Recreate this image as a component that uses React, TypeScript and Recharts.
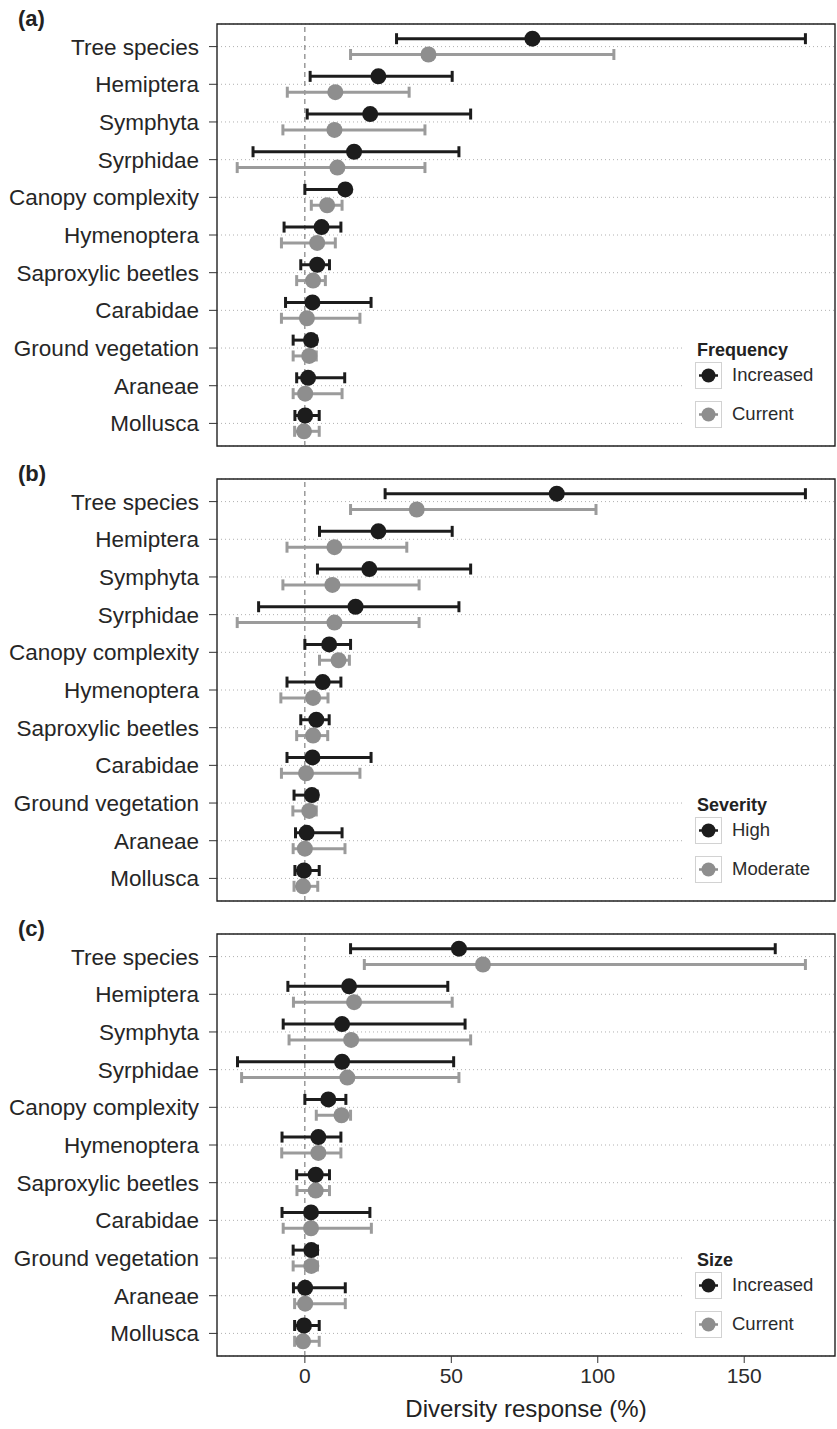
import {
  ScatterChart,
  Scatter,
  XAxis,
  YAxis,
  CartesianGrid,
  ReferenceLine,
  ReferenceArea,
  ErrorBar,
} from "recharts";

const species = [
  "Tree species",
  "Hemiptera",
  "Symphyta",
  "Syrphidae",
  "Canopy complexity",
  "Hymenoptera",
  "Saproxylic beetles",
  "Carabidae",
  "Ground vegetation",
  "Araneae",
  "Mollusca",
];

const xTicks = [0, 50, 100, 150];

// (a) frequency
const freqIncMean = [77.7, 25.1, 22.3, 16.8, 13.8, 5.7, 4.2, 2.6, 2.1, 1.1, 0.1];
const freqIncLow = [31.3, 1.8, 0.8, -17.7, 0, -7.1, -1.4, -6.6, -4.0, -2.8, -3.4];
const freqIncHigh = [170.9, 50.3, 56.6, 52.6, 14.5, 12.3, 8.4, 22.6, 3.9, 13.6, 4.9];
const freqCurMean = [42.2, 10.4, 10.1, 11.1, 7.6, 4.2, 2.8, 0.7, 1.5, 0.1, -0.3];
const freqCurLow = [15.6, -6.0, -7.5, -23.1, 2.2, -8.0, -2.8, -8.0, -4.0, -4.0, -3.5];
const freqCurHigh = [105.5, 35.6, 41.0, 41.0, 12.7, 10.4, 7.0, 18.8, 3.9, 12.7, 4.9];

// (b) severity
const sevHighMean = [86.0, 25.1, 22.0, 17.3, 8.3, 6.1, 3.9, 2.6, 2.4, 0.6, -0.3];
const sevHighLow = [27.4, 5.0, 4.3, -15.8, 0, -6.1, -1.4, -6.1, -3.7, -3.2, -3.4];
const sevHighHigh = [170.9, 50.3, 56.6, 52.6, 15.6, 12.3, 8.3, 22.6, 4.2, 12.7, 4.9];
const sevModMean = [38.2, 10.1, 9.4, 10.1, 11.5, 2.8, 2.8, 0.4, 1.5, 0, -0.6];
const sevModLow = [15.6, -6.1, -7.5, -23.1, 5.0, -8.2, -2.8, -8.0, -4.1, -4.0, -3.7];
const sevModHigh = [99.4, 34.8, 39.0, 39.0, 15.2, 7.9, 7.8, 18.8, 3.9, 13.7, 4.4];

// (c) size
const sizeIncMean = [52.6, 15.1, 12.7, 12.7, 8.0, 4.6, 3.7, 2.1, 2.2, 0.1, -0.3];
const sizeIncLow = [15.6, -5.8, -7.4, -23.0, 0, -7.8, -2.8, -7.8, -4.0, -3.9, -3.5];
const sizeIncHigh = [160.6, 48.8, 54.7, 50.8, 14.0, 12.3, 8.4, 22.2, 4.3, 13.8, 4.9];
const sizeCurMean = [60.8, 16.8, 15.8, 14.5, 12.5, 4.6, 3.7, 2.1, 2.2, 0.1, -0.6];
const sizeCurLow = [20.3, -3.9, -5.4, -21.6, 3.9, -7.9, -2.7, -7.4, -4.0, -3.5, -3.5];
const sizeCurHigh = [170.9, 50.3, 56.6, 52.6, 15.6, 12.3, 8.4, 22.7, 4.3, 13.8, 4.9];

const W = 837;
const DODGE = 0.21;
const DARK = "#1c1c1c";
const GREY = "#8e8e8e";
const GREY_BAR = "#9b9b9b";
const FONT = "'Liberation Sans', Arial, Helvetica, sans-serif";

function rows(mean: number[], low: number[], high: number[], shift: number) {
  return species.map((name, i) => ({
    name,
    x: mean[i],
    y: i + shift,
    err: [mean[i] - low[i], high[i] - mean[i]],
  }));
}

const dot = (fill: string) => (props: any) =>
  <circle cx={props.cx} cy={props.cy} r={8} fill={fill} />;

function LegendKey({ color }: { color: string }) {
  return (
    <svg width={27} height={27} style={{ display: "block" }}>
      <rect x={0.5} y={0.5} width={26} height={26} fill="#fff" stroke="#d2d2d2" />
      <line x1={4} y1={13.5} x2={23} y2={13.5} stroke={color} strokeWidth={2.5} />
      <circle cx={13.5} cy={13.5} r={7} fill={color} />
    </svg>
  );
}

type PanelProps = {
  tag: string;
  legendTitle: string;
  names: [string, string];
  dark: ReturnType<typeof rows>;
  grey: ReturnType<typeof rows>;
  showAxis?: boolean;
};

function Panel({ tag, legendTitle, names, dark, grey, showAxis }: PanelProps) {
  const height = showAxis ? 519 : 455;
  return (
    <div style={{ position: "relative", width: W, height }}>
      <ScatterChart
        width={W}
        height={height}
        margin={{ top: 24, right: 2, bottom: showAxis ? 0 : 9, left: 0 }}
      >
        <CartesianGrid horizontal vertical={false} stroke="#b0b0b0" strokeDasharray="1 3" />
        <XAxis
          type="number"
          dataKey="x"
          domain={[-30, 181]}
          ticks={xTicks}
          hide={!showAxis}
          height={73}
          axisLine={false}
          tickSize={7}
          tickMargin={5}
          tickLine={{ stroke: "#333" }}
          tick={{ fontSize: 21, fill: "#2b2b2b", fontFamily: FONT }}
          label={{
            value: "Diversity response (%)",
            position: "insideBottom",
            offset: 12,
            fontSize: 24,
            fill: "#222",
            fontFamily: FONT,
          }}
        />
        <YAxis
          type="number"
          dataKey="y"
          domain={[-0.6, 10.6]}
          reversed
          ticks={species.map((_, i) => i)}
          interval={0}
          tickFormatter={(v: number) => species[v]}
          width={217}
          axisLine={false}
          tickSize={8}
          tickMargin={10}
          tickLine={{ stroke: "#333" }}
          tick={{ fontSize: 22.5, fill: "#262626", fontFamily: FONT }}
        />
        <ReferenceLine x={0} stroke="#666" strokeDasharray="5 4" />
        <Scatter data={grey} shape={dot(GREY)} isAnimationActive={false}>
          <ErrorBar dataKey="err" direction="x" width={5.5} stroke={GREY_BAR} strokeWidth={3} />
        </Scatter>
        <Scatter data={dark} shape={dot(DARK)} isAnimationActive={false}>
          <ErrorBar dataKey="err" direction="x" width={5.5} stroke={DARK} strokeWidth={3} />
        </Scatter>
        <ReferenceArea
          x1={-30}
          x2={181}
          y1={-0.6}
          y2={10.6}
          fill="none"
          stroke="#222"
          strokeWidth={1.4}
          fillOpacity={0}
        />
      </ScatterChart>
      <div
        style={{
          position: "absolute",
          left: 18,
          top: 7,
          fontSize: 22,
          fontWeight: "bold",
          color: "#222",
          lineHeight: "24px",
        }}
      >
        {tag}
      </div>
      <div
        style={{
          position: "absolute",
          left: 684,
          top: 333,
          width: 150,
          height: 108,
          background: "#fff",
        }}
      >
        <div
          style={{
            position: "absolute",
            left: 13,
            top: 6,
            fontSize: 18,
            fontWeight: "bold",
            color: "#222",
            lineHeight: "22px",
          }}
        >
          {legendTitle}
        </div>
        {[DARK, GREY].map((c, i) => (
          <div key={c} style={{ position: "absolute", left: 11, top: 29 + i * 39 }}>
            <LegendKey color={c} />
            <div
              style={{
                position: "absolute",
                left: 37,
                top: 2,
                fontSize: 18.5,
                color: "#2b2b2b",
                lineHeight: "22px",
                whiteSpace: "nowrap",
              }}
            >
              {names[i]}
            </div>
          </div>
        ))}
      </div>
    </div>
  );
}

export default function App() {
  return (
    <div
      style={{
        position: "absolute",
        left: 0,
        top: 0,
        width: W,
        height: 1429,
        background: "#fff",
        fontFamily: FONT,
      }}
    >
      <Panel
        tag="(a)"
        legendTitle="Frequency"
        names={["Increased", "Current"]}
        dark={rows(freqIncMean, freqIncLow, freqIncHigh, -DODGE)}
        grey={rows(freqCurMean, freqCurLow, freqCurHigh, DODGE)}
      />
      <Panel
        tag="(b)"
        legendTitle="Severity"
        names={["High", "Moderate"]}
        dark={rows(sevHighMean, sevHighLow, sevHighHigh, -DODGE)}
        grey={rows(sevModMean, sevModLow, sevModHigh, DODGE)}
      />
      <Panel
        tag="(c)"
        legendTitle="Size"
        names={["Increased", "Current"]}
        dark={rows(sizeIncMean, sizeIncLow, sizeIncHigh, -DODGE)}
        grey={rows(sizeCurMean, sizeCurLow, sizeCurHigh, DODGE)}
        showAxis
      />
    </div>
  );
}
